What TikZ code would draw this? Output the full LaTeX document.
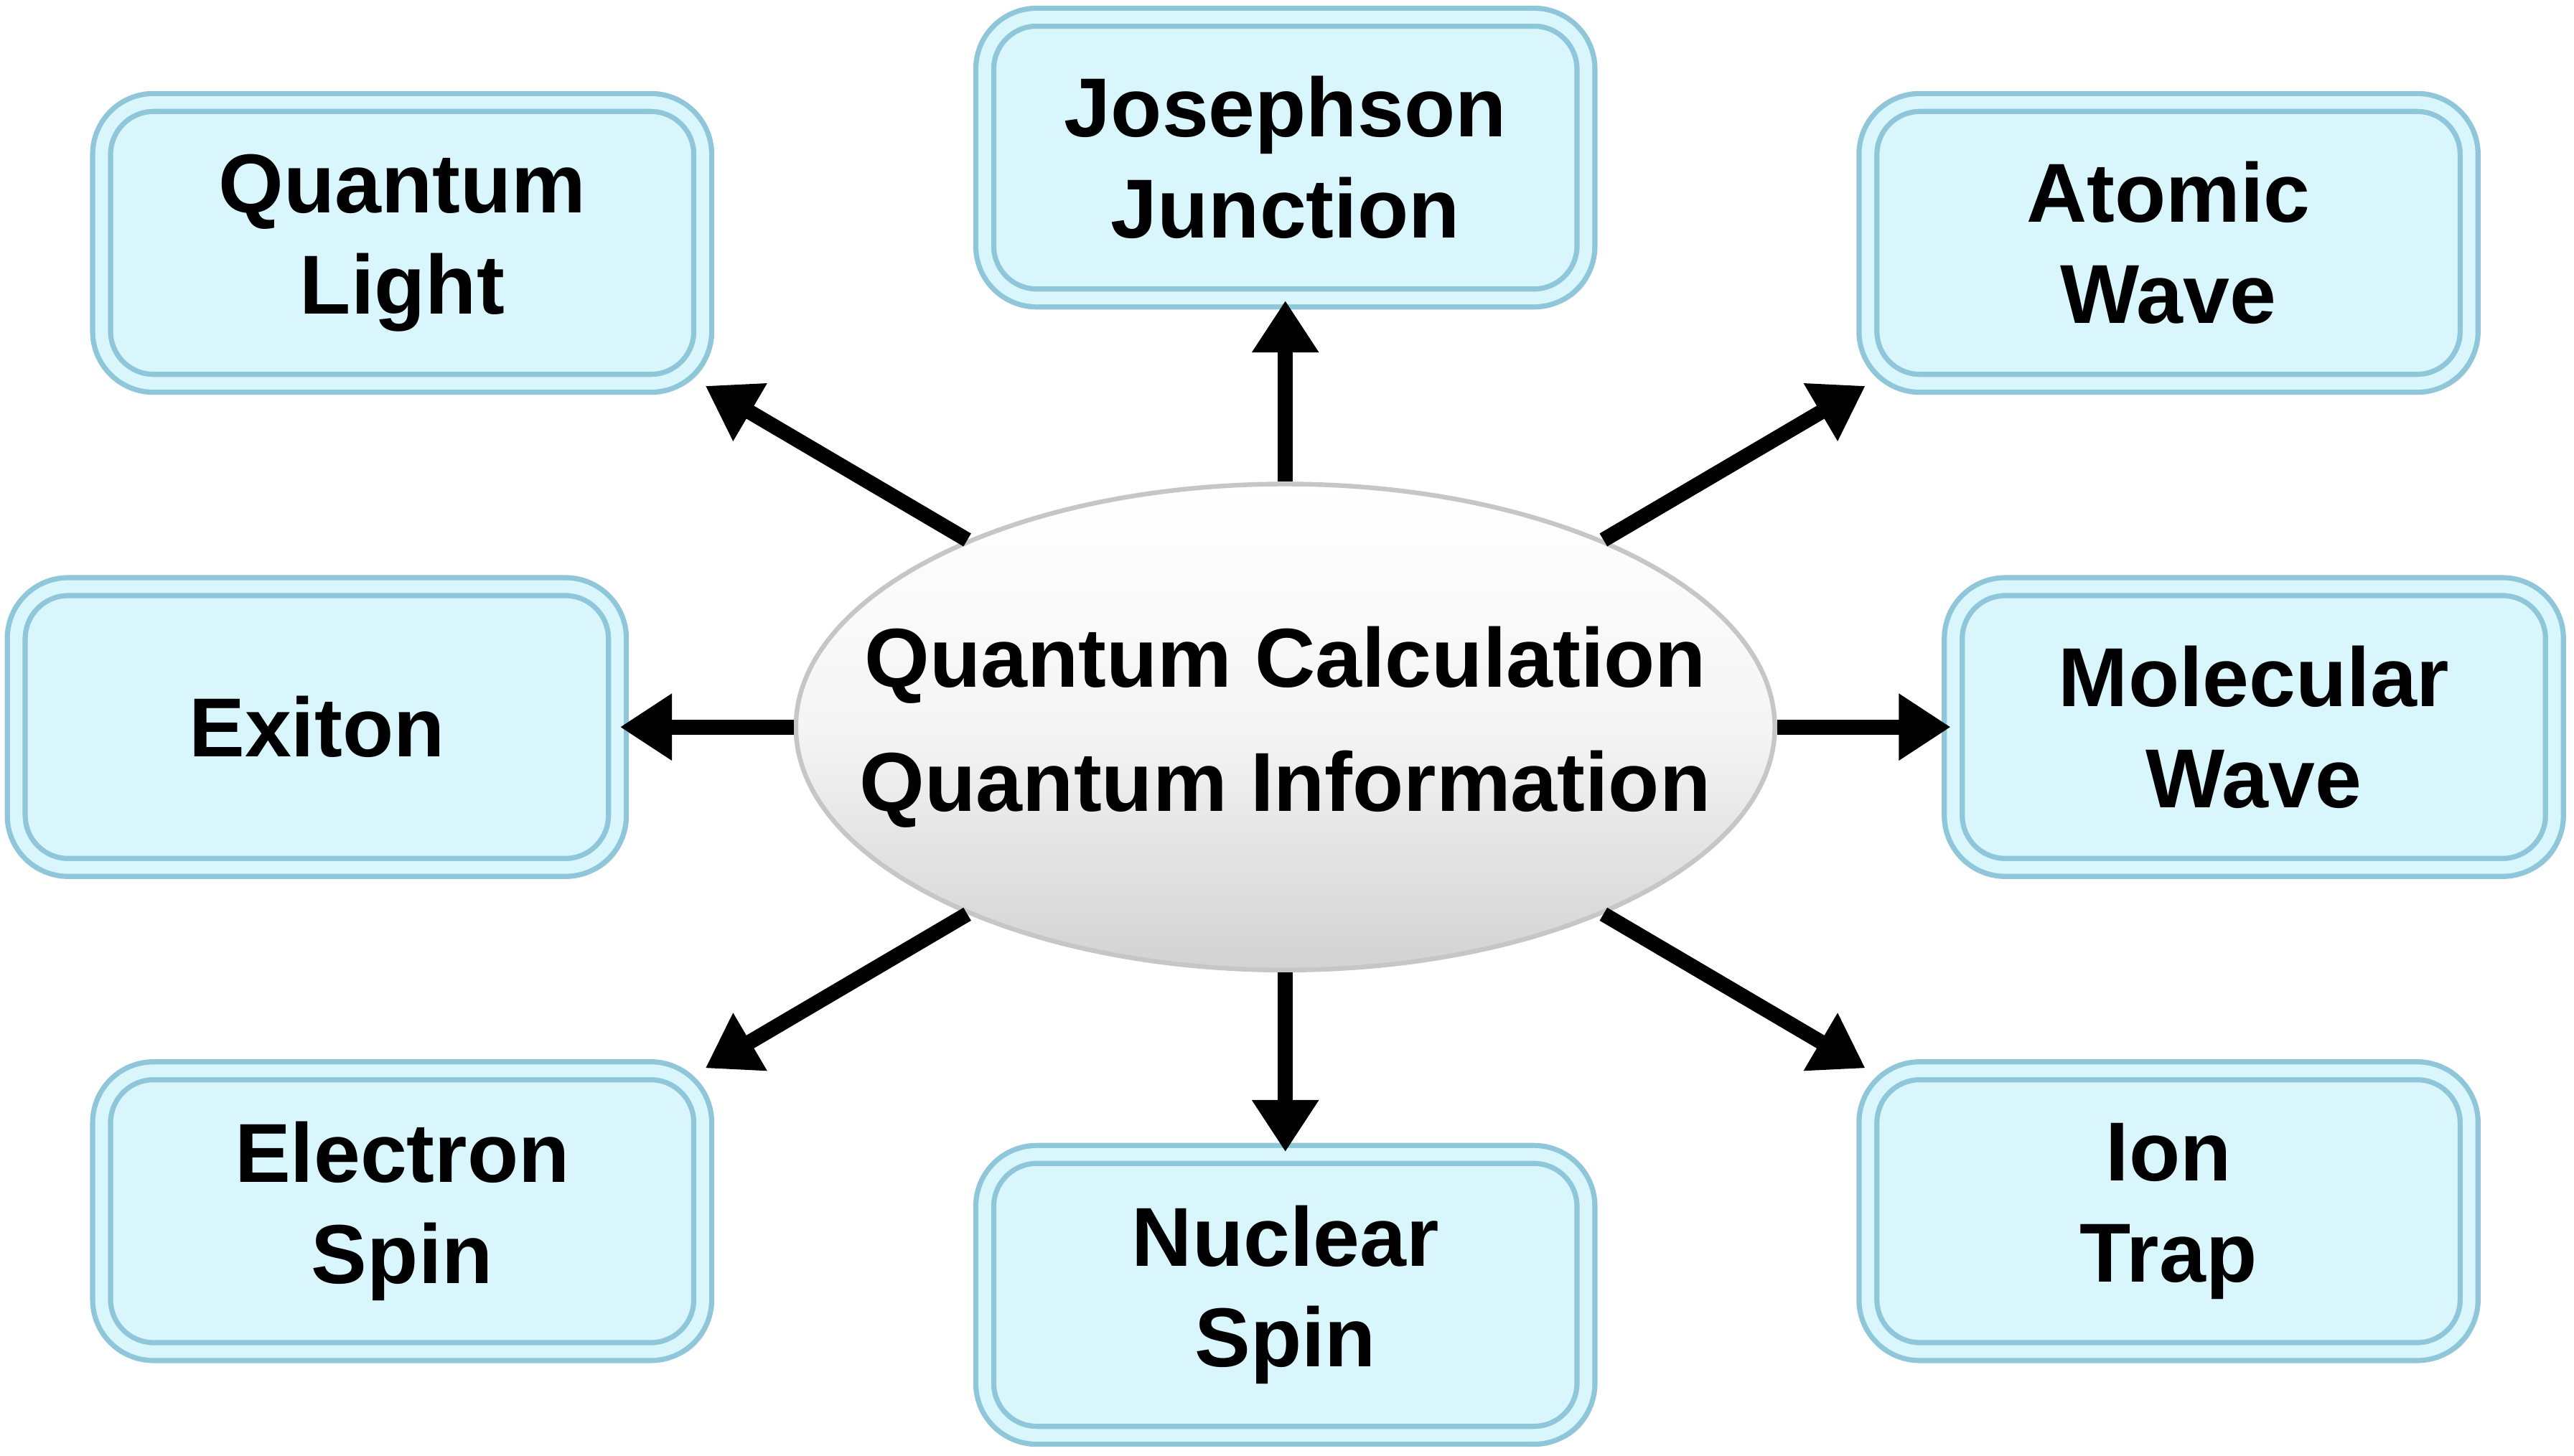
\documentclass[tikz,border=0pt]{standalone}
\usepackage{fontspec}
\setmainfont{Liberation Sans}
\usetikzlibrary{shapes.geometric,arrows.meta,shadows}
\definecolor{boxfill}{HTML}{D9F6FD}
\definecolor{boxedge}{HTML}{8FC6DA}
\begin{document}
\begin{tikzpicture}[x=0.01cm,y=-0.01cm,
		topic/.style={draw=boxedge,line width=0.9pt,double=boxfill,double distance=2.2pt,fill=boxfill,rounded corners=9pt,
			minimum width=3.66cm,minimum height=1.71cm,align=center,font=\bfseries\fontsize{14.5}{17.5}\selectfont,
			drop shadow={shadow xshift=1.5pt,shadow yshift=-1.5pt,opacity=0.25}},
		core/.style={ellipse,draw=gray!45,line width=0.8pt,top color=white,bottom color=gray!35,middle color=gray!8,
			inner sep=0pt,minimum width=5.96cm,minimum height=2.96cm},
		core text/.style={align=center,font=\bfseries\fontsize{14.5}{21.5}\selectfont},
		arr/.style={-{Triangle[length=9pt,width=11pt]},line width=2.6pt}]
	\useasboundingbox (0,0) rectangle (1568,887);
	
	% centre
	\node[core] (qc) at (783,443) {};
	\node[core text] (qct) at (qc) {Quantum Calculation\\Quantum Information};
	
	% topics
	\node[topic] (ql) at (245,148) {Quantum\\Light};
	\node[topic] (jj) at (783,96) {Josephson\\Junction};
	\node[topic] (aw) at (1321,148) {Atomic\\Wave};
	\node[topic] (ex) at (193,443) {Exiton};
	\node[topic] (mw) at (1373,443) {Molecular\\Wave};
	\node[topic] (es) at (245,738) {Electron\\Spin};
	\node[topic] (ns) at (783,789) {Nuclear\\Spin};
	\node[topic] (it) at (1321,738) {Ion\\Trap};
	
	% arrows
	\draw[arr] (qc) -- (ql.south east);
	\draw[arr] (qc) -- (jj);
	\draw[arr] (qc) -- (aw.south west);
	\draw[arr] (qc) -- (ex);
	\draw[arr] (qc) -- (mw);
	\draw[arr] (qc) -- (es.north east);
	\draw[arr] (qc) -- (ns);
	\draw[arr] (qc) -- (it.north west);
\end{tikzpicture}
\end{document}
